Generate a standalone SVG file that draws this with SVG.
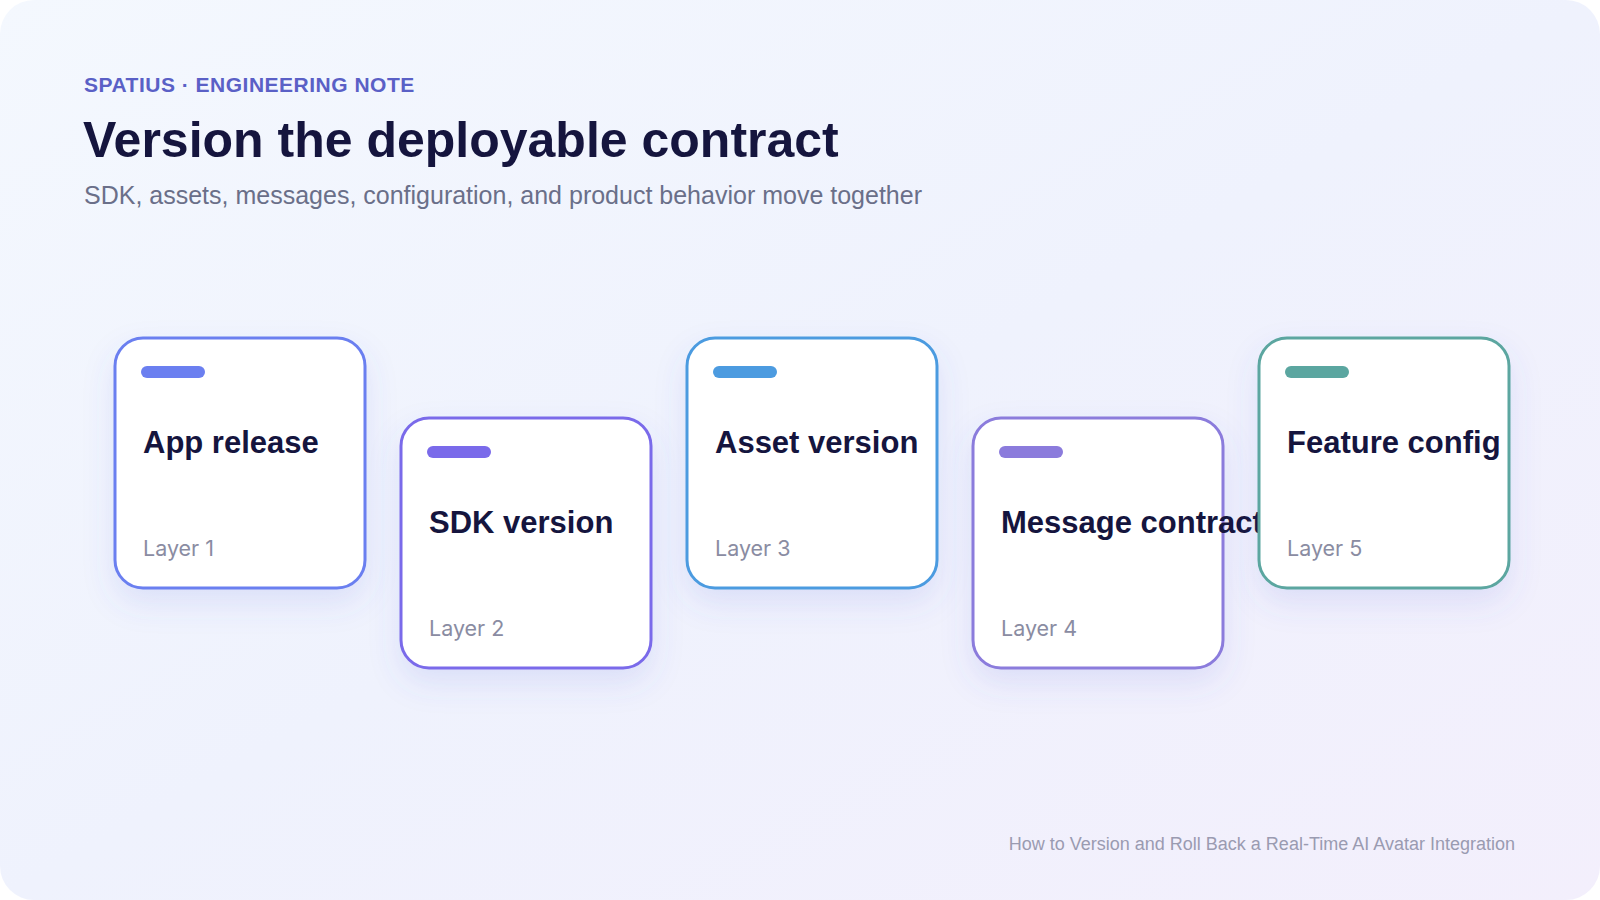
<svg xmlns="http://www.w3.org/2000/svg" width="1600" height="900" viewBox="0 0 1600 900">
  <defs>
    <linearGradient id="bg" x1="0" y1="0" x2="1" y2="1">
      <stop offset="0" stop-color="#f4f8fe"/>
      <stop offset="0.5" stop-color="#eff2fd"/>
      <stop offset="1" stop-color="#f3effc"/>
    </linearGradient>
    <filter id="shadow" x="-30%" y="-30%" width="160%" height="170%">
      <feDropShadow dx="0" dy="14" stdDeviation="15" flood-color="#5a64d8" flood-opacity="0.13"/>
    </filter>
  </defs>
  <style>
    .eyebrow { font-family: "Liberation Sans", Arial, sans-serif; font-weight: 700; font-size: 21px; letter-spacing: 0.5px; fill: #5a60c6; }
    .title { font-family: "Liberation Sans", Arial, sans-serif; font-weight: 700; font-size: 50px; fill: #15153e; }
    .subtitle { font-family: "Liberation Sans", Arial, sans-serif; font-size: 25px; fill: #6a6f89; }
    .card { fill: #ffffff; stroke-width: 3; filter: url(#shadow); }
    .card-title { font-family: "Liberation Sans", Arial, sans-serif; font-weight: 700; font-size: 31px; fill: #15153e; }
    .card-label { font-family: "Inter", "Liberation Sans", Arial, sans-serif; font-size: 21.5px; fill: #8a8ca2; }
    .footer { font-family: "Liberation Sans", Arial, sans-serif; font-size: 18px; fill: #9a9bb1; }
  </style>

  <rect x="0" y="0" width="1600" height="900" fill="#ffffff"/>
  <rect x="0" y="0" width="1600" height="900" rx="34" ry="34" fill="url(#bg)"/>

  <g id="header">
    <text class="eyebrow" x="84" y="92">SPATIUS · ENGINEERING NOTE</text>
    <text class="title" x="83" y="157">Version the deployable contract</text>
    <text class="subtitle" x="84" y="204">SDK, assets, messages, configuration, and product behavior move together</text>
  </g>

  <g id="connectors"></g>

  <g id="node-app-release">
    <rect class="card" x="115" y="338" width="250" height="250" rx="28" stroke="#6b7ff0"/>
    <rect x="141" y="366" width="64" height="12" rx="6" fill="#6b7ff0"/>
    <text class="card-title" x="143" y="453">App release</text>
    <text class="card-label" x="143" y="556">Layer 1</text>
  </g>

  <g id="node-sdk-version">
    <rect class="card" x="401" y="418" width="250" height="250" rx="28" stroke="#7a6aea"/>
    <rect x="427" y="446" width="64" height="12" rx="6" fill="#7a6aea"/>
    <text class="card-title" x="429" y="533">SDK version</text>
    <text class="card-label" x="429" y="636">Layer 2</text>
  </g>

  <g id="node-asset-version">
    <rect class="card" x="687" y="338" width="250" height="250" rx="28" stroke="#4c9be0"/>
    <rect x="713" y="366" width="64" height="12" rx="6" fill="#4c9be0"/>
    <text class="card-title" x="715" y="453">Asset version</text>
    <text class="card-label" x="715" y="556">Layer 3</text>
  </g>

  <g id="node-message-contract">
    <rect class="card" x="973" y="418" width="250" height="250" rx="28" stroke="#8b7bdc"/>
    <rect x="999" y="446" width="64" height="12" rx="6" fill="#8b7bdc"/>
    <text class="card-title" x="1001" y="533">Message contract</text>
    <text class="card-label" x="1001" y="636">Layer 4</text>
  </g>

  <g id="node-feature-config">
    <rect class="card" x="1259" y="338" width="250" height="250" rx="28" stroke="#5ba6a0"/>
    <rect x="1285" y="366" width="64" height="12" rx="6" fill="#5ba6a0"/>
    <text class="card-title" x="1287" y="453">Feature config</text>
    <text class="card-label" x="1287" y="556">Layer 5</text>
  </g>

  <g id="footer">
    <text class="footer" x="1515" y="850" text-anchor="end">How to Version and Roll Back a Real-Time AI Avatar Integration</text>
  </g>
</svg>
